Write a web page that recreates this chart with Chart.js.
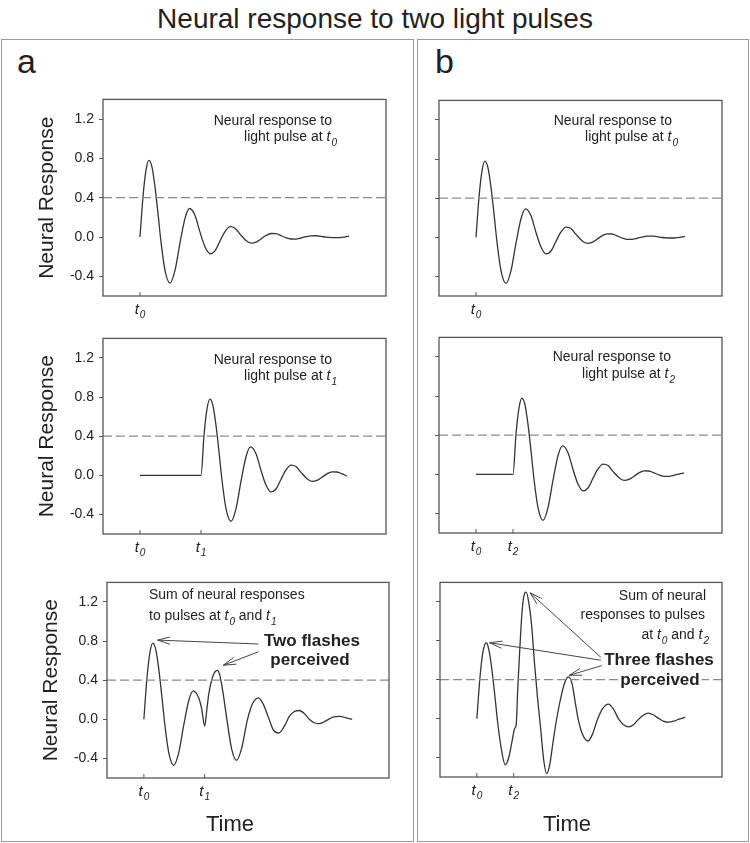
<!DOCTYPE html>
<html>
<head>
<meta charset="utf-8">
<script src="https://cdn.jsdelivr.net/npm/chart.js@4.4.0/dist/chart.umd.min.js"></script>
<style>
  body { margin: 0; background: #fff; }
  #page { position: relative; width: 750px; height: 843px; overflow: hidden;
          font-family: "Liberation Sans", Arial, sans-serif; color: #222; }
  .box { position: absolute; border: 1.5px solid #9a9a9a; box-sizing: border-box; }
  .lbl { position: absolute; line-height: 1; white-space: nowrap; }
  canvas { position: absolute; }
</style>
</head>
<body>
<div id="page">
  <div class="lbl" style="left:0;width:750px;top:5px;text-align:center;font-size:28px;">Neural response to two light pulses</div>
  <div class="box" style="left:1px;top:39px;width:413px;height:803px;"></div>
  <div class="box" style="left:417px;top:39px;width:332px;height:803px;"></div>
  <div class="lbl" style="left:17px;top:44px;font-size:34px;">a</div>
  <div class="lbl" style="left:435px;top:44px;font-size:34px;">b</div>
  <canvas id="a1"></canvas>
  <canvas id="b1"></canvas>
  <canvas id="a2"></canvas>
  <canvas id="b2"></canvas>
  <canvas id="a3"></canvas>
  <canvas id="b3"></canvas>
</div>
<script>
const FONT = '"Liberation Sans", Arial, sans-serif';

// response to a single light pulse, time counted from the pulse
const respT = [0, 3, 6, 9, 12, 15, 18, 21, 25, 30, 35, 40, 45, 49.5, 55, 60, 65, 70, 75, 80,
  85, 90, 95, 100, 106, 111, 116, 121, 126, 131, 136, 141, 146, 151, 156, 161, 166, 171, 176, 181,
  186, 192, 198, 204, 209];
const respY = [0, 0.41, 0.68, 0.78, 0.71, 0.51, 0.24, -0.05, -0.34, -0.47, -0.34, -0.06, 0.19, 0.29, 0.22, 0.05, -0.10, -0.17, -0.14, -0.04,
  0.055, 0.105, 0.09, 0.03, -0.035, -0.062, -0.052, -0.02, 0.015, 0.036, 0.034, 0.015, -0.007, -0.02, -0.021, -0.01, 0.003, 0.012, 0.013, 0.007,
  -0.002, -0.007, -0.007, 0.0, 0.01];

// pulse times (t0 = 0)
const t1 = 61;
const t2 = 37;
const curveEnd = 209;

// summed responses, pulses at t0 and t1
const sumAT = [0, 3, 6, 9, 12, 15, 18, 21, 25, 30, 35, 40, 45, 49.5, 55, 58, 61, 63, 65, 68,
  71, 73.5, 76, 79, 83, 88, 93, 98, 104, 109, 115, 120, 125, 130, 135.5, 141, 146, 151, 156, 161,
  166, 171, 176, 181, 187, 192, 197, 203, 209];
const sumAY = [0, 0.41, 0.68, 0.78, 0.71, 0.51, 0.24, -0.05, -0.34, -0.47, -0.34, -0.06, 0.19, 0.29, 0.22, 0.11, -0.07, 0.08, 0.25, 0.4,
  0.48, 0.5, 0.46, 0.3, 0.02, -0.3, -0.42, -0.3, 0.0, 0.16, 0.22, 0.15, 0.02, -0.11, -0.14, -0.07, 0.03, 0.08, 0.09, 0.06,
  0.0, -0.035, -0.045, -0.025, 0.01, 0.028, 0.03, 0.015, 0.0];

// summed responses, pulses at t0 and t2
const sumBT = [0, 3, 6, 9.5, 12, 15, 18, 21, 25, 28.5, 32, 35, 38, 39.5, 41, 43, 45, 47, 49.5, 52,
  55, 58, 61, 64, 67, 70, 73, 77, 81, 85, 88.5, 92, 95.5, 99, 102, 106, 111.5, 116, 121, 126,
  132, 137, 142, 147, 152.5, 157.5, 162, 167, 172, 177, 182, 187, 192.5, 198, 203, 209];
const sumBY = [0, 0.41, 0.68, 0.78, 0.71, 0.51, 0.24, -0.05, -0.34, -0.475, -0.4, -0.25, -0.1, -0.06, 0.3, 0.7, 1.05, 1.25, 1.3, 1.2,
  0.95, 0.55, 0.2, -0.1, -0.42, -0.565, -0.48, -0.2, 0.05, 0.25, 0.38, 0.43, 0.36, 0.15, -0.02, -0.16, -0.23, -0.16, -0.01, 0.1,
  0.15, 0.1, 0.0, -0.06, -0.085, -0.06, -0.01, 0.035, 0.057, 0.04, 0.005, -0.025, -0.037, -0.025, -0.005, 0.013];

const yTicks = [-0.4, 0, 0.4, 0.8, 1.2];
const threshold = 0.4;
const xMin = -37, xMax = 246;
const yMin = -0.6, yMax = 1.4;

function pts(ts, ys, shift) {
    return ts.map((t, i) => ({ x: t + shift, y: ys[i] }));
}

function delayed(shift) {
    return [{ x: 0, y: 0 }].concat(pts(respT, respY, shift)).filter(p => p.x <= curveEnd);
}

// text with {n} -> italic t with subscript n
function drawRich(ctx, str, x, y, align, size, bold, bg) {
    const pieces = str.split(/\{(\d)\}/);
    const segs = [];
    pieces.forEach((p, i) => {
        if (i % 2 === 0) {
            if (p) segs.push({ t: p, f: (bold ? 'bold ' : '') + size + 'px ' + FONT, dy: 0, gap: 0 });
        } else {
            segs.push({ t: 't', f: 'italic ' + size + 'px ' + FONT, dy: 0, gap: 1 });
            segs.push({ t: p, f: 'italic ' + Math.round(size * 0.68) + 'px ' + FONT, dy: size * 0.38, gap: 0 });
        }
    });
    let w = 0;
    segs.forEach(s => { ctx.font = s.f; s.w = ctx.measureText(s.t).width + s.gap; w += s.w; });
    let cx = align === 'right' ? x - w : align === 'center' ? x - w / 2 : x;
    if (bg) {
        ctx.fillStyle = '#fff';
        ctx.fillRect(cx - 2, y - size * 0.6, w + 4, size * 1.2);
    }
    ctx.fillStyle = '#222';
    ctx.textAlign = 'left';
    ctx.textBaseline = 'middle';
    segs.forEach(s => { ctx.font = s.f; ctx.fillText(s.t, cx, y + s.dy); cx += s.w; });
}

function arrow(ctx, x1, y1, x2, y2) {
    const ang = Math.atan2(y2 - y1, x2 - x1);
    const len = 13, spread = 0.28;
    ctx.beginPath();
    ctx.moveTo(x1, y1);
    ctx.lineTo(x2, y2);
    ctx.moveTo(x2 - len * Math.cos(ang - spread), y2 - len * Math.sin(ang - spread));
    ctx.lineTo(x2, y2);
    ctx.lineTo(x2 - len * Math.cos(ang + spread), y2 - len * Math.sin(ang + spread));
    ctx.stroke();
}

const decoPlugin = {
    id: 'deco',
    afterDraw(chart, args, o) {
        const { ctx, chartArea: a, scales: { x, y } } = chart;
        ctx.save();
        ctx.strokeStyle = '#555';
        ctx.lineWidth = 1.3;
        ctx.strokeRect(a.left, a.top, a.right - a.left, a.bottom - a.top);

        // x ticks point into the plot
        ctx.lineWidth = 1;
        o.xTicks.forEach(([v, sub]) => {
            const px = x.getPixelForValue(v);
            ctx.beginPath();
            ctx.moveTo(px, a.bottom);
            ctx.lineTo(px, a.bottom - 4);
            ctx.stroke();
            drawRich(ctx, '{' + sub + '}', px, a.bottom + 14, 'center', 15);
        });

        (o.notes || []).forEach(n => {
            const px = n.from === 'right' ? a.right + n.x : a.left + n.x;
            drawRich(ctx, n.s, px, a.top + n.y, n.align, n.size || 14, n.bold, n.bg);
        });

        ctx.strokeStyle = '#444';
        ctx.lineWidth = 1;
        (o.arrows || []).forEach(([fx, fy, tx, ty]) => {
            arrow(ctx, x.getPixelForValue(fx), y.getPixelForValue(fy),
                x.getPixelForValue(tx), y.getPixelForValue(ty));
        });

        if (o.time) {
            ctx.fillStyle = '#222';
            ctx.font = '22px ' + FONT;
            ctx.textAlign = 'center';
            ctx.textBaseline = 'middle';
            ctx.fillText('Time', a.left + o.time[0], a.bottom + o.time[1]);
        }
        ctx.restore();
    }
};

const panels = [
    {
        id: 'a1', plot: [103, 96, 283, 200], L: 72, B: 30, labels: true,
        data: pts(respT, respY, 0), xTicks: [[0, '0']],
        notes: [
            { s: 'Neural response to', from: 'right', x: -54, y: 22, align: 'right' },
            { s: 'light pulse at {0}', from: 'right', x: -49, y: 38, align: 'right' },
        ],
    },
    {
        id: 'b1', plot: [439, 97, 283, 199], L: 10, B: 30, labels: false,
        data: pts(respT, respY, 0), xTicks: [[0, '0']],
        notes: [
            { s: 'Neural response to', from: 'right', x: -50, y: 21, align: 'right' },
            { s: 'light pulse at {0}', from: 'right', x: -44, y: 37, align: 'right' },
        ],
    },
    {
        id: 'a2', plot: [103, 335, 283, 199], L: 72, B: 30, labels: true,
        data: delayed(t1), xTicks: [[0, '0'], [t1, '1']],
        notes: [
            { s: 'Neural response to', from: 'right', x: -54, y: 22, align: 'right' },
            { s: 'light pulse at {1}', from: 'right', x: -49, y: 38, align: 'right' },
        ],
    },
    {
        id: 'b2', plot: [439, 334, 283, 199], L: 10, B: 30, labels: false,
        data: delayed(t2), xTicks: [[0, '0'], [t2, '2']],
        notes: [
            { s: 'Neural response to', from: 'right', x: -51, y: 20, align: 'right' },
            { s: 'light pulse at {2}', from: 'right', x: -47, y: 37, align: 'right' },
        ],
    },
    {
        id: 'a3', plot: [107, 579, 282, 199], L: 72, B: 62, labels: true,
        data: pts(sumAT, sumAY, 0), xTicks: [[0, '0'], [t1, '1']],
        notes: [
            { s: 'Sum of neural responses', from: 'left', x: 42, y: 13, align: 'left' },
            { s: 'to pulses at {0} and {1}', from: 'left', x: 42, y: 34, align: 'left' },
            { s: 'Two flashes', from: 'left', x: 205, y: 59, align: 'center', size: 17, bold: true },
            { s: 'perceived', from: 'left', x: 203, y: 78, align: 'center', size: 17, bold: true },
        ],
        arrows: [[115, 0.77, 13.7, 0.81], [115, 0.69, 79.7, 0.553]],
        time: [123, 47],
    },
    {
        id: 'b3', plot: [440, 579, 282, 198], L: 10, B: 62, labels: false,
        data: pts(sumBT, sumBY, 0), xTicks: [[0, '0'], [t2, '2']],
        notes: [
            { s: 'Sum of neural', from: 'right', x: -16, y: 14, align: 'right' },
            { s: 'responses to pulses', from: 'right', x: -17, y: 33, align: 'right' },
            { s: 'at {0} and {2}', from: 'right', x: -13, y: 53, align: 'right' },
            { s: 'Three flashes', from: 'left', x: 219, y: 78, align: 'center', size: 17, bold: true },
            { s: 'perceived', from: 'left', x: 220, y: 98, align: 'center', size: 17, bold: true, bg: true },
        ],
        arrows: [[124.4, 0.63, 53.4, 1.293], [124.4, 0.6, 12.7, 0.78], [125.4, 0.545, 92.7, 0.445]],
        time: [127, 48],
    },
];

panels.forEach(p => {
    const [left, top, w, h] = p.plot;
    const padTop = 10, padRight = 10;
    const canvas = document.getElementById(p.id);
    canvas.width = p.L + w + padRight;
    canvas.height = padTop + h + p.B;
    canvas.style.left = (left - p.L) + 'px';
    canvas.style.top = (top - padTop) + 'px';
    canvas.style.width = canvas.width + 'px';
    canvas.style.height = canvas.height + 'px';

    new Chart(canvas, {
        type: 'line',
        data: {
            datasets: [
                {
                    data: [{ x: xMin, y: threshold }, { x: xMax, y: threshold }],
                    borderColor: '#8a8a8a', borderWidth: 1.2, borderDash: [9, 4],
                    pointRadius: 0,
                },
                {
                    data: p.data,
                    borderColor: '#333', borderWidth: 1.3,
                    cubicInterpolationMode: 'monotone',
                    pointRadius: 0,
                },
            ],
        },
        options: {
            responsive: false,
            devicePixelRatio: 1,
            animation: false,
            events: [],
            layout: { padding: { top: padTop, right: padRight, left: 0, bottom: 0 } },
            plugins: {
                legend: { display: false },
                tooltip: { enabled: false },
                deco: { xTicks: p.xTicks, notes: p.notes, arrows: p.arrows, time: p.time },
            },
            scales: {
                x: {
                    type: 'linear', min: xMin, max: xMax,
                    ticks: { display: false },
                    grid: { display: false },
                    border: { display: false },
                    afterFit(s) { s.height = p.B; },
                },
                y: {
                    min: yMin, max: yMax,
                    afterBuildTicks(s) { s.ticks = yTicks.map(v => ({ value: v })); },
                    ticks: {
                        padding: 5, color: '#222',
                        font: { family: FONT, size: 14 },
                        callback: v => p.labels ? Number(v).toFixed(1) : '',
                    },
                    grid: { drawOnChartArea: false, drawTicks: true, tickLength: 4, tickColor: '#555', tickWidth: 1 },
                    border: { display: false },
                    title: {
                        display: p.labels, text: 'Neural Response', color: '#222',
                        font: { family: FONT, size: 21 }, padding: { top: 4, bottom: 4 },
                    },
                    afterFit(s) { s.width = p.L; },
                },
            },
        },
        plugins: [decoPlugin],
    });
});
</script>
</body>
</html>
